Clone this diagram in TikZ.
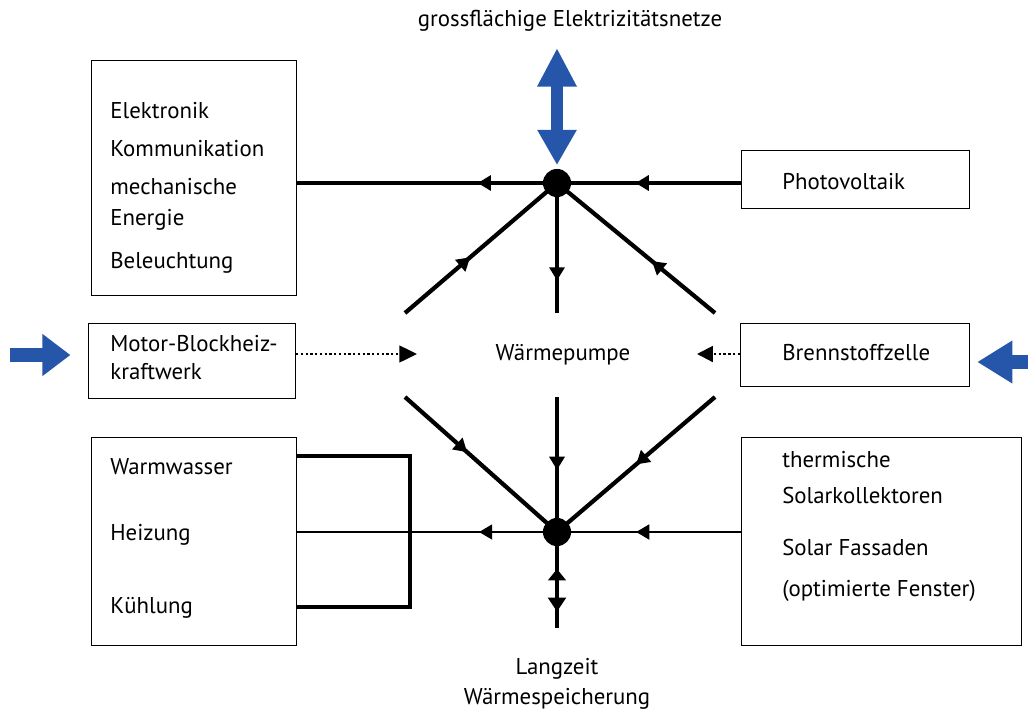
\documentclass[tikz,border=0pt]{standalone}
\usepackage{fontspec}
\setmainfont{PT Sans}
\usetikzlibrary{arrows.meta,decorations.markings}

\definecolor{netzblau}{RGB}{38,86,170}

\tikzset{
  box/.style={draw,line width=0.7pt,inner sep=0pt,anchor=north west},
  txt/.style={anchor=west,inner sep=0pt,text height=0.7em,text depth=0pt},
  mtxt/.style={inner sep=0pt,text height=0.7em,text depth=0pt},
  knoten/.style={circle,fill,inner sep=0pt,minimum size=16pt},
  dick/.style={line width=2.4pt},
  duenn/.style={line width=1.2pt},
  pfeil/.style={postaction={decorate},decoration={markings,
      mark=at position #1 with {\arrow{Triangle[length=7.5pt,width=8.5pt]}}}},
  blaupfeil/.style={netzblau,line width=#1}
}

\begin{document}
\begin{tikzpicture}[x=0.02cm,y=-0.02cm,font=\fontsize{13}{15}\selectfont]
  \useasboundingbox (0,0) rectangle (1028,714);

  % Kaesten
  \node[box,minimum width=4.10cm,minimum height=4.70cm] (elek) at (91,60) {};
  \node[box,minimum width=4.56cm,minimum height=1.16cm] (pv) at (741,150) {};
  \node[box,minimum width=4.14cm,minimum height=1.50cm] (bhkw) at (88,323) {};
  \node[box,minimum width=4.58cm,minimum height=1.26cm] (bz) at (740,323) {};
  \node[box,minimum width=4.10cm,minimum height=4.16cm] (heiz) at (91,437) {};
  \node[box,minimum width=5.60cm,minimum height=4.16cm] (solar) at (741,437) {};

  % Texte
  \node[txt] (t1) at (110,112) {Elektronik};
  \node[txt] (t2) at (110,150) {Kommunikation};
  \node[txt] (t3) at (110,188) {mechanische};
  \node[txt] (t4) at (110,219) {Energie};
  \node[txt] (t5) at (110,262) {Beleuchtung};
  \node[txt] (t6) at (782,183) {Photovoltaik};
  \node[txt] (t7) at (110,345) {Motor-Blockheiz-};
  \node[txt] (t8) at (110,373) {kraftwerk};
  \node[txt] (t9) at (782,354) {Brennstoffzelle};
  \node[txt] (ww) at (110,468) {Warmwasser};
  \node[txt] (hz) at (110,534) {Heizung};
  \node[txt] (kue) at (110,607) {Kühlung};
  \node[txt] (s1) at (782,461) {thermische};
  \node[txt] (s2) at (782,497) {Solarkollektoren};
  \node[txt] (s3) at (782,549) {Solar Fassaden};
  \node[txt] (s4) at (782,590) {(optimierte Fenster)};
  \node[mtxt] (netz) at (570,20) {grossflächige Elektrizitätsnetze};
  \node[mtxt] (wp) at (563,354) {Wärmepumpe};
  \node[mtxt] (lz) at (557,668) {Langzeit};
  \node[mtxt] (wsp) at (557,698) {Wärmespeicherung};

  % Knoten
  \node[knoten] (jt) at (557,183) {};
  \node[knoten] (jb) at (557,532) {};
  \coordinate (tl) at (405,313);
  \coordinate (tm) at (557,313);
  \coordinate (tr) at (715,313);
  \coordinate (bl) at (405,397);
  \coordinate (bm) at (557,397);
  \coordinate (br) at (715,397);
  \coordinate (sp) at (557,628);
  \coordinate (nt) at (557,48);
  \coordinate (wpl) at (417,354);
  \coordinate (wpr) at (697,354);
  \coordinate (qin) at (10,355);
  \coordinate (qr) at (1034,362);

  % Strom
  \draw[dick,pfeil=0.305] (jt.center) -- (elek.east |- jt);
  \draw[dick,pfeil=0.573] (pv.west |- jt) -- (jt.center);
  \draw[dick,pfeil=0.43] (tl) -- (jt.center);
  \draw[dick,pfeil=0.40] (tr) -- (jt.center);
  \draw[dick,pfeil=0.75] (jt.center) -- (tm);
  \draw[blaupfeil=6.8pt,{Triangle[length=22pt,width=21pt]}-{Triangle[length=20pt,width=21pt]},
        shorten >=2pt] (nt) -- (jt.north);

  % Waerme
  \draw[dick,pfeil=0.41] (bl) -- (jb.center);
  \draw[dick,pfeil=0.50] (br) -- (jb.center);
  \draw[dick,pfeil=0.54] (bm) -- (jb.center);
  \draw[duenn,pfeil=0.30] (jb.center) -- (heiz.east |- jb);
  \draw[duenn,pfeil=0.57] (solar.west |- jb) -- (jb.center);
  \draw[dick,postaction={decorate},decoration={markings,
      mark=at position 0.385 with {\arrowreversed{Triangle[length=6.5pt,width=10pt]}},
      mark=at position 0.83 with {\arrow{Triangle[length=8pt,width=10pt]}}}]
    (jb.center) -- (sp);
  \draw[dick] (heiz.east |- 0,456) -- (410,456) |- (heiz.east |- kue);

  % Zufuhr
  \draw[duenn,dash pattern=on 1.3pt off 1.4pt,-{Triangle[length=10pt,width=9.5pt]}]
    (bhkw.east |- wpl) -- (wpl);
  \draw[duenn,dash pattern=on 1.3pt off 1.4pt,-{Triangle[length=9pt,width=9pt]}]
    (bz.west |- wpr) -- (wpr);
  \draw[blaupfeil=8pt,-{Triangle[length=16pt,width=23pt]},shorten >=10pt]
    (qin) -- (bhkw.west |- qin);
  \draw[blaupfeil=8pt,-{Triangle[length=20pt,width=23pt]},shorten >=4pt]
    (qr) -- (bz.east |- qr);
\end{tikzpicture}
\end{document}
